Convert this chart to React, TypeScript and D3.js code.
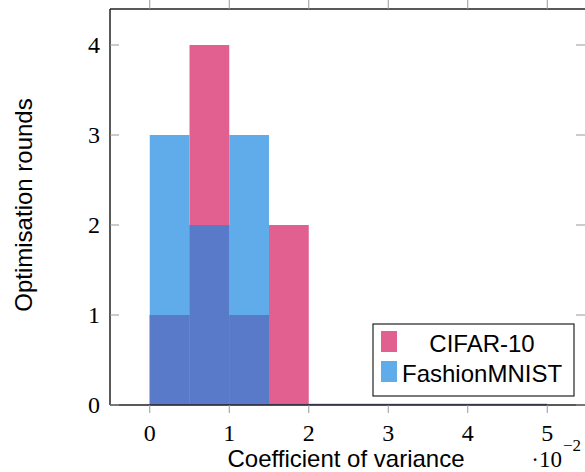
import React, { useEffect, useRef } from 'react';
import * as d3 from 'd3';

// bin edges in units of 1e-2
const binStarts = [0, 0.5, 1, 1.5, 2, 2.5, 3, 3.5, 4, 4.5];
const binWidth = 0.5;
const cifarCounts = [1, 4, 1, 2, 0, 0, 0, 0, 0, 0];
const fashionCounts = [3, 2, 3, 0, 0, 0, 0, 0, 0, 0];
const xTicks = [0, 1, 2, 3, 4, 5];
const yTicks = [0, 1, 2, 3, 4];
const legendItems = ['CIFAR-10', 'FashionMNIST'];

const pink = '#e1608f';
const blue = '#60abea';
const overlap = '#587ac9';

const serif = '"Liberation Serif", "DejaVu Serif", serif';
const sans = '"Liberation Sans", Arial, sans-serif';

const App = () => {
  const ref = useRef(null);
  const width = 585;
  const height = 472;

  useEffect(() => {
    const svg = d3.select(ref.current);
    svg.selectAll('*').remove();

    const left = 110;
    const right = 587;
    const top = 9;
    const bottom = 405;

    const x = d3.scaleLinear().domain([-0.5, 5.5]).range([left, right]);
    const y = d3.scaleLinear().domain([0, 4.4]).range([bottom, top]);

    const bins = binStarts.map((s, i) => ({
      s,
      c: cifarCounts[i],
      f: fashionCounts[i],
      o: Math.min(cifarCounts[i], fashionCounts[i]),
    }));

    const g = svg.append('g');
    const bw = x(binWidth) - x(0);

    // CIFAR bars
    g.selectAll('.cifar')
      .data(bins)
      .enter().append('rect')
      .attr('x', d => x(d.s))
      .attr('y', d => y(d.c))
      .attr('width', bw)
      .attr('height', d => y(0) - y(d.c))
      .style('fill', pink);

    // FashionMNIST bars
    g.selectAll('.fashion')
      .data(bins)
      .enter().append('rect')
      .attr('x', d => x(d.s))
      .attr('y', d => y(d.f))
      .attr('width', bw)
      .attr('height', d => y(0) - y(d.f))
      .style('fill', blue);

    // overlap region
    g.selectAll('.overlap')
      .data(bins)
      .enter().append('rect')
      .attr('x', d => x(d.s))
      .attr('y', d => y(d.o))
      .attr('width', bw)
      .attr('height', d => y(0) - y(d.o))
      .style('fill', overlap);

    // baseline of empty bins
    g.append('line')
      .attr('x1', x(0)).attr('x2', x(5))
      .attr('y1', y(0) - 0.5).attr('y2', y(0) - 0.5)
      .style('stroke', '#7476c4')
      .style('stroke-width', 1.5);

    // axis frame
    g.append('line')
      .attr('x1', left).attr('x2', left).attr('y1', top).attr('y2', bottom)
      .style('stroke', '#222').style('stroke-width', 1.5);
    g.append('line')
      .attr('x1', left).attr('x2', right).attr('y1', top).attr('y2', top)
      .style('stroke', '#222').style('stroke-width', 1.5);
    g.append('line')
      .attr('x1', left).attr('x2', right).attr('y1', bottom).attr('y2', bottom)
      .style('stroke', '#222').style('stroke-width', 1.5);

    // x ticks (outside, top and bottom)
    xTicks.forEach(t => {
      g.append('line')
        .attr('x1', x(t)).attr('x2', x(t)).attr('y1', bottom).attr('y2', bottom + 8)
        .style('stroke', '#999').style('stroke-width', 1);
      g.append('line')
        .attr('x1', x(t)).attr('x2', x(t)).attr('y1', 0).attr('y2', top)
        .style('stroke', '#999').style('stroke-width', 1);
      g.append('text')
        .attr('x', x(t))
        .attr('y', 441)
        .attr('text-anchor', 'middle')
        .style('font-family', serif)
        .style('font-size', '24px')
        .text(t);
    });

    // y ticks (inside, left and right)
    yTicks.forEach(t => {
      g.append('line')
        .attr('x1', left).attr('x2', left + 9).attr('y1', y(t)).attr('y2', y(t))
        .style('stroke', '#999').style('stroke-width', 1);
      g.append('line')
        .attr('x1', right - 11).attr('x2', right).attr('y1', y(t)).attr('y2', y(t))
        .style('stroke', '#999').style('stroke-width', 1);
      g.append('text')
        .attr('x', 100)
        .attr('y', y(t) + 8)
        .attr('text-anchor', 'end')
        .style('font-family', serif)
        .style('font-size', '24px')
        .text(t);
    });

    // axis labels
    g.append('text')
      .attr('x', 346)
      .attr('y', 467)
      .attr('text-anchor', 'middle')
      .style('font-family', sans)
      .style('font-size', '24px')
      .text('Coefficient of variance');

    g.append('text')
      .attr('transform', 'rotate(-90)')
      .attr('x', -205)
      .attr('y', 32)
      .attr('text-anchor', 'middle')
      .style('font-family', sans)
      .style('font-size', '24px')
      .text('Optimisation rounds');

    // exponent of the x axis
    g.append('text')
      .attr('x', 562)
      .attr('y', 467)
      .attr('text-anchor', 'end')
      .style('font-family', serif)
      .style('font-size', '23px')
      .text('·10');
    g.append('text')
      .attr('x', 563)
      .attr('y', 451)
      .style('font-family', serif)
      .style('font-size', '17px')
      .text('−2');

    // legend
    const lg = g.append('g').attr('transform', 'translate(373, 324)');
    lg.append('rect')
      .attr('width', 201).attr('height', 72)
      .style('fill', 'white').style('stroke', '#222').style('stroke-width', 1.2);
    legendItems.forEach((name, i) => {
      lg.append('rect')
        .attr('x', 8).attr('y', 7 + i * 30)
        .attr('width', 16).attr('height', 21)
        .style('fill', i === 0 ? pink : blue);
      lg.append('text')
        .attr('x', i === 0 ? 109 : 29)
        .attr('y', 28 + i * 30)
        .attr('text-anchor', i === 0 ? 'middle' : 'start')
        .style('font-family', sans)
        .style('font-size', '24px')
        .text(name);
    });
  }, []);

  return (
    <svg ref={ref} width={width} height={height}
      style={{ position: 'absolute', left: 0, top: 0, background: 'white' }} />
  );
};

export default App;
